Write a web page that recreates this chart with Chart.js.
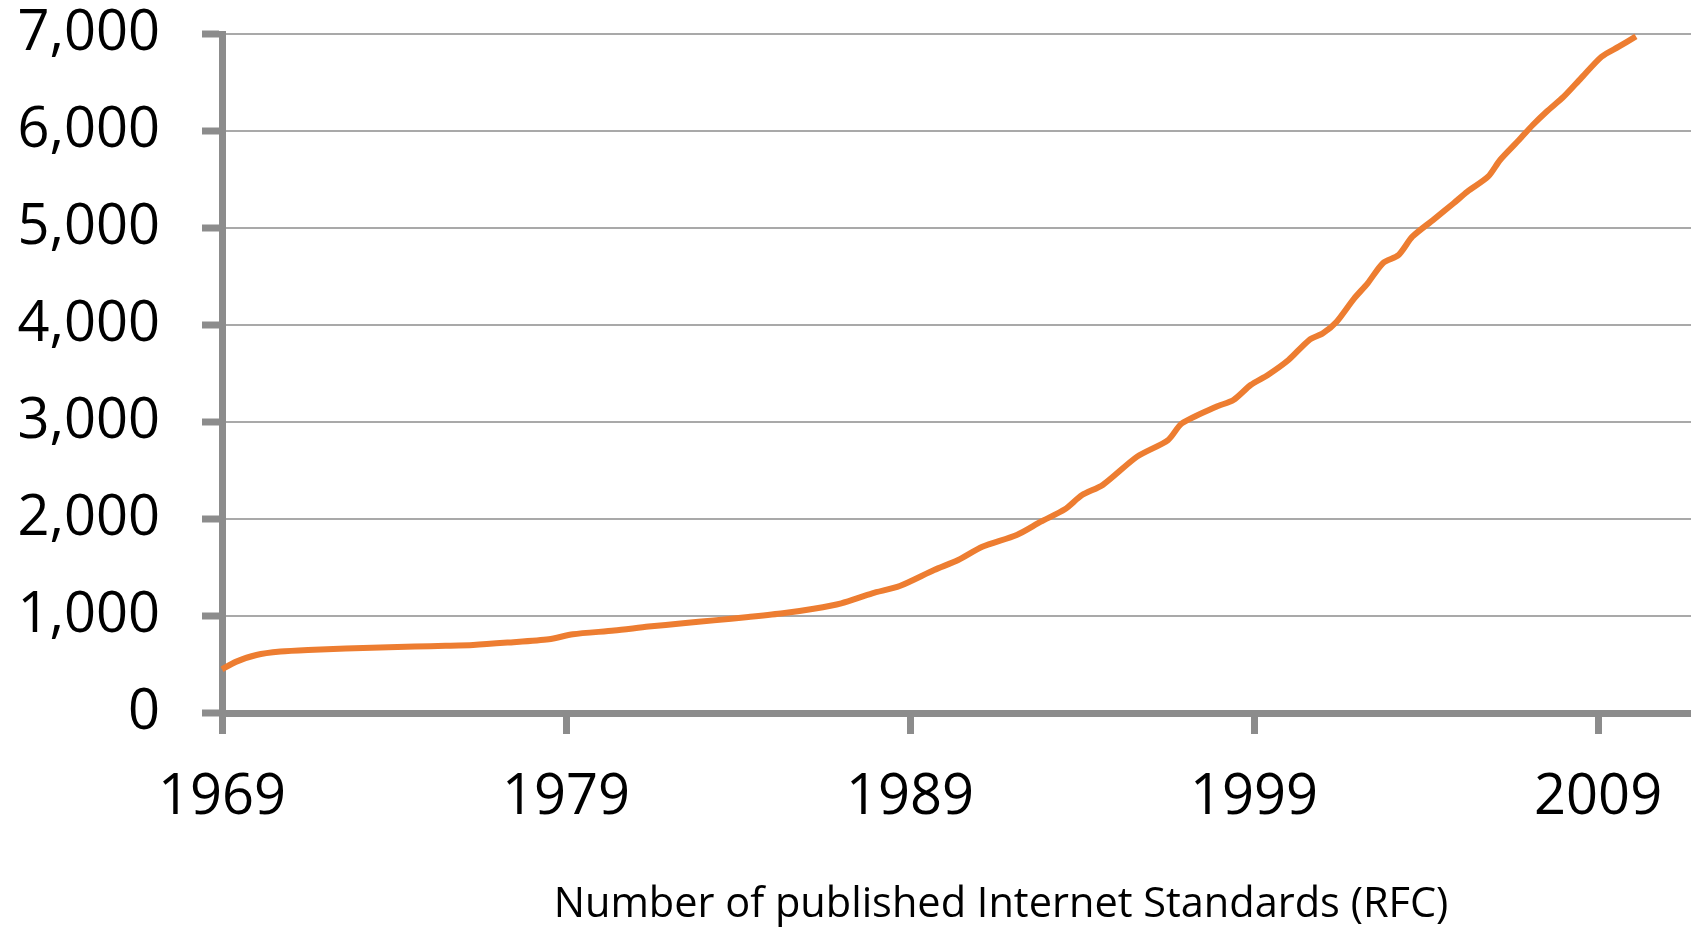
<!DOCTYPE html>
<html>
<head>
<meta charset="utf-8">
<title>Number of published Internet Standards (RFC)</title>
<script src="https://cdn.jsdelivr.net/npm/chart.js@4.4.1/dist/chart.umd.min.js"></script>
<style>
  html, body { margin: 0; padding: 0; background: #ffffff; }
  #wrap { position: relative; width: 1691px; height: 930px; }
  canvas { display: block; }
</style>
</head>
<body>
<div id="wrap"><canvas id="rfc" width="1691" height="930"></canvas></div>
<script>
// Cumulative count of published RFCs over time (fractional year, total)
const years = [
  1969.0, 1969.4, 1970.0, 1970.7, 1971.5, 1972.6, 1973.6, 1974.6, 1975.5, 1976.3,
  1977.3, 1978.5, 1979.2, 1980.4, 1981.4, 1982.4, 1983.3, 1984.3, 1985.3, 1986.2,
  1987.0, 1987.9, 1988.7, 1989.7, 1990.4, 1991.1, 1992.1, 1992.8, 1993.5, 1994.0,
  1994.6, 1995.6, 1996.5, 1996.9, 1997.9, 1998.4, 1998.9, 1999.4, 2000.0, 2000.6,
  2001.0, 2001.4, 2001.9, 2002.3, 2002.75, 2003.2, 2003.6, 2004.2, 2004.8, 2005.2,
  2005.8, 2006.15, 2006.7, 2007.1, 2007.5, 2008.0, 2008.5, 2009.1, 2009.6, 2010.1
];
const rfcTotals = [
  450, 527, 598, 633, 650, 664, 674, 685, 693, 702,
  726, 760, 812, 850, 891, 925, 955, 990, 1028, 1075,
  1131, 1234, 1309, 1474, 1577, 1714, 1835, 1972, 2100, 2247,
  2351, 2643, 2814, 2986, 3158, 3227, 3381, 3485, 3639, 3845,
  3914, 4034, 4270, 4430, 4640, 4722, 4910, 5082, 5255, 5375,
  5529, 5701, 5907, 6062, 6199, 6354, 6543, 6766, 6869, 6975
];
const xTickYears = [1969, 1979, 1989, 1999, 2009];
const yTickValues = [0, 1000, 2000, 3000, 4000, 5000, 6000, 7000];
const axisTitle = 'Number of published Internet Standards (RFC)';

const points = years.map((y, i) => ({ x: y, y: rfcTotals[i] }));

const AXIS_GREY = '#8c8c8c';
const GRID_GREY = '#a9a9a9';
const TICK_FONT = { family: '"Open Sans", "DejaVu Sans", sans-serif', size: 56 };

// Caption drawn beneath the year axis
const captionPlugin = {
  id: 'caption',
  afterDraw(chart) {
    const ctx = chart.ctx;
    ctx.save();
    ctx.font = '41.5px "Open Sans", "DejaVu Sans", sans-serif';
    ctx.fillStyle = '#000000';
    ctx.textAlign = 'center';
    ctx.textBaseline = 'alphabetic';
    ctx.fillText(axisTitle, 1001, 917);
    ctx.restore();
  }
};

new Chart(document.getElementById('rfc'), {
  type: 'line',
  data: {
    datasets: [{
      data: points,
      borderColor: '#ED7D31',
      borderWidth: 6,
      pointRadius: 0,
      tension: 0.25,
      fill: false,
      clip: false
    }]
  },
  options: {
    responsive: false,
    animation: false,
    events: [],
    layout: { padding: { top: 34, right: 0, bottom: 0, left: 0 } },
    plugins: {
      legend: { display: false },
      tooltip: { enabled: false },
      title: { display: false }
    },
    scales: {
      x: {
        type: 'linear',
        min: 1969,
        max: 2011.7,
        afterBuildTicks(scale) {
          scale.ticks = xTickYears.map(v => ({ value: v }));
        },
        afterFit(scale) {
          scale.height = 217;
          scale.paddingLeft = 0;
          scale.paddingRight = 0;
        },
        ticks: {
          color: '#000000',
          font: TICK_FONT,
          padding: 30,
          maxRotation: 0,
          autoSkip: false,
          callback: v => String(v)
        },
        grid: {
          drawOnChartArea: false,
          drawTicks: true,
          tickLength: 21,
          tickWidth: 7,
          tickColor: AXIS_GREY
        },
        border: { display: true, color: AXIS_GREY, width: 7 }
      },
      y: {
        type: 'linear',
        min: 0,
        max: 7000,
        afterBuildTicks(scale) {
          scale.ticks = yTickValues.map(v => ({ value: v }));
        },
        afterFit(scale) {
          scale.width = 222;
          scale.paddingTop = 0;
          scale.paddingBottom = 0;
        },
        ticks: {
          color: '#000000',
          font: TICK_FONT,
          padding: 42,
          callback: v => v.toLocaleString('en-US')
        },
        grid: {
          drawOnChartArea: true,
          color: GRID_GREY,
          lineWidth: 2,
          drawTicks: true,
          tickLength: 20,
          tickWidth: 7,
          tickColor: AXIS_GREY
        },
        border: { display: true, color: AXIS_GREY, width: 7 }
      }
    }
  },
  plugins: [captionPlugin]
});
</script>
</body>
</html>
